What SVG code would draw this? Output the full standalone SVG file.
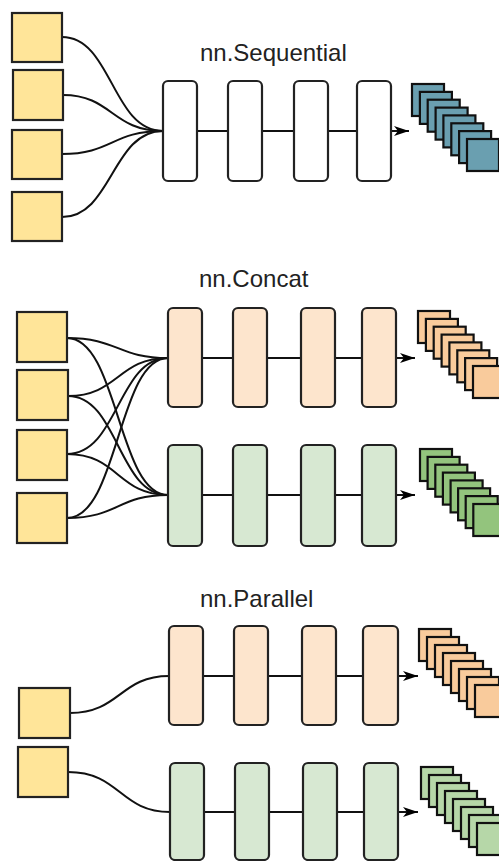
<svg xmlns="http://www.w3.org/2000/svg" width="499" height="861" viewBox="0 0 499 861">
<defs>
<marker id="arr" markerUnits="userSpaceOnUse" markerWidth="16" markerHeight="12" refX="15" refY="6" orient="auto">
<path d="M0,1 L15,6 L0,11 L4,6 Z" fill="#000"/>
</marker>
</defs>
<style>
.in{fill:#ffe599;stroke:#222;stroke-width:2.2}
.box{stroke:#222;stroke-width:2.2}
.w{fill:#fff}.o{fill:#fde5cd}.g{fill:#d7e8d2}
.c{fill:none;stroke:#111;stroke-width:2}
.t{font-family:"Liberation Sans",Arial,sans-serif;font-size:24px;fill:#222}
.sq{stroke:#111;stroke-width:2.2}
</style>
<g id="connectors">
<path class="c" d="M62,37 C112,37 112,131 163,131"/>
<path class="c" d="M63,95 C112,95 112,131 163,131"/>
<path class="c" d="M62,154 C112,154 112,131 163,131"/>
<path class="c" d="M62,217 C112,217 112,131 163,131"/>
<path class="c" d="M197,131 H228 M262,131 H294 M328,131 H357"/>
<path class="c" d="M391,131 H409" marker-end="url(#arr)"/>
<path class="c" d="M67,338 C118,338 118,358 168,358"/>
<path class="c" d="M68,396 C118,396 118,358 168,358"/>
<path class="c" d="M67,454 C118,454 118,358 168,358"/>
<path class="c" d="M67,518 C118,518 118,358 168,358"/>
<path class="c" d="M67,338 C118,338 118,495 168,495"/>
<path class="c" d="M68,396 C118,396 118,495 168,495"/>
<path class="c" d="M67,454 C118,454 118,495 168,495"/>
<path class="c" d="M67,518 C118,518 118,495 168,495"/>
<path class="c" d="M202,358 H233 M267,358 H301 M335,358 H362"/>
<path class="c" d="M396,358 H415" marker-end="url(#arr)"/>
<path class="c" d="M202,495 H233 M267,495 H301 M335,495 H362"/>
<path class="c" d="M396,495 H415" marker-end="url(#arr)"/>
<path class="c" d="M70,713 C120,713 120,676 169,676"/>
<path class="c" d="M68,772 C120,772 120,812 170,812"/>
<path class="c" d="M203,676 H234 M268,676 H302 M336,676 H363"/>
<path class="c" d="M397,676 H418" marker-end="url(#arr)"/>
<path class="c" d="M204,812 H235 M269,812 H303 M337,812 H364"/>
<path class="c" d="M398,812 H418" marker-end="url(#arr)"/>
</g>
<g id="seq">
<text class="t" x="200" y="61">nn.Sequential</text>
<g id="seq-in1"><rect class="in" x="12" y="13" width="50" height="49"/></g>
<g id="seq-in2"><rect class="in" x="13" y="70" width="50" height="50"/></g>
<g id="seq-in3"><rect class="in" x="12" y="130" width="50" height="49"/></g>
<g id="seq-in4"><rect class="in" x="12" y="192" width="50" height="49"/></g>
<g id="seq-l1"><rect class="box w" x="163" y="81" width="34" height="100" rx="5"/></g>
<g id="seq-l2"><rect class="box w" x="228" y="81" width="34" height="100" rx="5"/></g>
<g id="seq-l3"><rect class="box w" x="294" y="81" width="34" height="100" rx="5"/></g>
<g id="seq-l4"><rect class="box w" x="357" y="81" width="34" height="100" rx="5"/></g>
<g id="seq-out" fill="#6a9fb0" class="sq">
<rect x="412" y="84" width="32" height="32"/>
<rect x="419.9" y="91.9" width="32" height="32"/>
<rect x="427.7" y="99.7" width="32" height="32"/>
<rect x="435.6" y="107.6" width="32" height="32"/>
<rect x="443.4" y="115.4" width="32" height="32"/>
<rect x="451.3" y="123.3" width="32" height="32"/>
<rect x="459.1" y="131.1" width="32" height="32"/>
<rect x="467" y="139" width="32" height="32"/>
</g>
</g>
<g id="concat">
<text class="t" x="199" y="287">nn.Concat</text>
<g id="cat-in1"><rect class="in" x="17" y="312" width="50" height="50"/></g>
<g id="cat-in2"><rect class="in" x="17" y="370" width="51" height="50"/></g>
<g id="cat-in3"><rect class="in" x="17" y="430" width="50" height="50"/></g>
<g id="cat-in4"><rect class="in" x="17" y="493" width="50" height="50"/></g>
<g id="cat-a1"><rect class="box o" x="168" y="308" width="34" height="99" rx="5"/></g>
<g id="cat-a2"><rect class="box o" x="233" y="308" width="34" height="99" rx="5"/></g>
<g id="cat-a3"><rect class="box o" x="301" y="308" width="34" height="99" rx="5"/></g>
<g id="cat-a4"><rect class="box o" x="362" y="308" width="34" height="99" rx="5"/></g>
<g id="cat-b1"><rect class="box g" x="168" y="445" width="34" height="101" rx="5"/></g>
<g id="cat-b2"><rect class="box g" x="233" y="445" width="34" height="101" rx="5"/></g>
<g id="cat-b3"><rect class="box g" x="301" y="445" width="34" height="101" rx="5"/></g>
<g id="cat-b4"><rect class="box g" x="362" y="445" width="34" height="101" rx="5"/></g>
<g id="cat-outa" fill="#f9cb9c" class="sq">
<rect x="418" y="311" width="32" height="32"/>
<rect x="425.9" y="318.9" width="32" height="32"/>
<rect x="433.7" y="326.7" width="32" height="32"/>
<rect x="441.6" y="334.6" width="32" height="32"/>
<rect x="449.4" y="342.4" width="32" height="32"/>
<rect x="457.3" y="350.3" width="32" height="32"/>
<rect x="465.1" y="358.1" width="32" height="32"/>
<rect x="473" y="366" width="32" height="32"/>
</g>
<g id="cat-outb" fill="#93c47d" class="sq">
<rect x="420" y="449" width="32" height="32"/>
<rect x="427.6" y="456.9" width="32" height="32"/>
<rect x="435.3" y="464.7" width="32" height="32"/>
<rect x="442.9" y="472.6" width="32" height="32"/>
<rect x="450.6" y="480.4" width="32" height="32"/>
<rect x="458.1" y="488.3" width="32" height="32"/>
<rect x="465.7" y="496.1" width="32" height="32"/>
<rect x="473.3" y="504" width="32" height="32"/>
</g>
</g>
<g id="parallel">
<text class="t" x="200" y="607">nn.Parallel</text>
<g id="par-in1"><rect class="in" x="19" y="688" width="51" height="50"/></g>
<g id="par-in2"><rect class="in" x="18" y="747" width="50" height="50"/></g>
<g id="par-a1"><rect class="box o" x="169" y="626" width="34" height="99" rx="5"/></g>
<g id="par-a2"><rect class="box o" x="234" y="626" width="34" height="99" rx="5"/></g>
<g id="par-a3"><rect class="box o" x="302" y="626" width="34" height="99" rx="5"/></g>
<g id="par-a4"><rect class="box o" x="363" y="626" width="35" height="99" rx="5"/></g>
<g id="par-b1"><rect class="box g" x="170" y="763" width="34" height="97" rx="5"/></g>
<g id="par-b2"><rect class="box g" x="235" y="763" width="34" height="97" rx="5"/></g>
<g id="par-b3"><rect class="box g" x="303" y="763" width="34" height="97" rx="5"/></g>
<g id="par-b4"><rect class="box g" x="364" y="763" width="34" height="97" rx="5"/></g>
<g id="par-outa" fill="#f9cb9c" class="sq">
<rect x="419" y="629" width="32" height="32"/>
<rect x="427" y="637" width="32" height="32"/>
<rect x="435" y="645" width="32" height="32"/>
<rect x="443" y="653" width="32" height="32"/>
<rect x="451" y="661" width="32" height="32"/>
<rect x="459" y="669" width="32" height="32"/>
<rect x="467" y="677" width="32" height="32"/>
<rect x="475" y="685" width="32" height="32"/>
</g>
<g id="par-outb" fill="#b6d7a8" class="sq">
<rect x="421" y="767" width="32" height="32"/>
<rect x="429" y="775" width="32" height="32"/>
<rect x="437" y="783" width="32" height="32"/>
<rect x="445" y="791" width="32" height="32"/>
<rect x="453" y="799" width="32" height="32"/>
<rect x="461" y="807" width="32" height="32"/>
<rect x="469" y="815" width="32" height="32"/>
<rect x="477" y="823" width="32" height="32"/>
</g>
</g>
</svg>
